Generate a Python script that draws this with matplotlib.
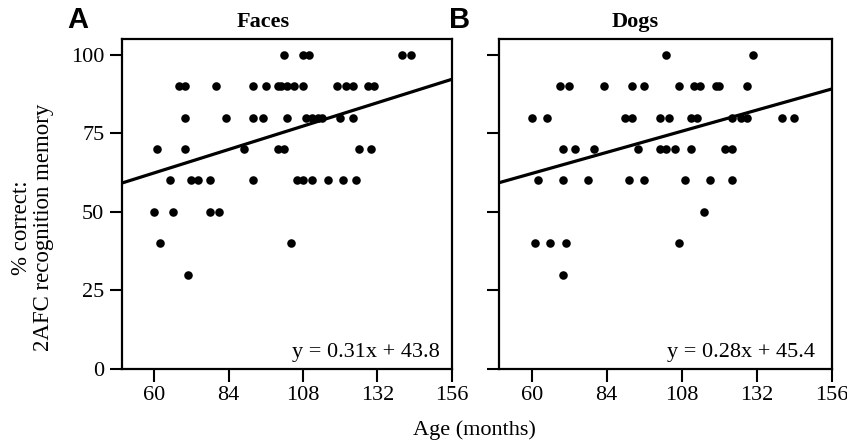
import matplotlib
matplotlib.use('Agg')
import matplotlib.pyplot as plt

# Faces: age in months and % correct
face_age = [102, 108, 110, 140, 143,
            68, 70, 80, 92, 96, 100, 101, 103, 105, 108, 119, 122, 124, 129, 131,
            70, 83, 92, 95, 103, 109, 111, 113, 114, 120, 124,
            61, 70, 89, 100, 102, 126, 130,
            65, 72, 74, 78, 92, 106, 108, 111, 116, 121, 125,
            60, 66, 78, 81,
            62, 104,
            71]
face_pct = [100] * 5 + [90] * 15 + [80] * 11 + [70] * 7 + [60] * 11 + [50] * 4 + [40] * 2 + [30]

# Dogs
dog_age = [103, 131,
           69, 72, 83, 92, 96, 107, 112, 114, 119, 120, 129,
           60, 65, 90, 92, 101, 104, 111, 113, 124, 127, 129, 140, 144,
           70, 74, 80, 94, 101, 103, 106, 111, 122, 124,
           62, 70, 78, 91, 96, 109, 117, 124,
           115,
           61, 66, 71, 107,
           70]
dog_pct = [100] * 2 + [90] * 11 + [80] * 13 + [70] * 10 + [60] * 8 + [50] + [40] * 4 + [30]

# regression lines as printed in the figure
fits = [(0.31, 43.8), (0.28, 45.4)]
titles = ['Faces', 'Dogs']
letters = ['A', 'B']
xticks = [60, 84, 108, 132, 156]
yticks = [0, 25, 50, 75, 100]

plt.rcParams['font.family'] = ['Liberation Serif', 'DejaVu Serif']

fig = plt.figure(figsize=(8.47, 4.46), dpi=100)
ax1 = fig.add_axes([0.1437, 0.1726, 0.3896, 0.740])
ax2 = fig.add_axes([0.589, 0.1726, 0.3928, 0.740])

data = [(face_age, face_pct), (dog_age, dog_pct)]
title_x = [0.43, 0.41]
eq_x = [0.965, 0.95]
letter_x = [0.080, 0.530]

for i, ax in enumerate([ax1, ax2]):
    ages, pct = data[i]
    ax.scatter(ages, pct, s=38, color='black', zorder=3, linewidths=0)
    m, b = fits[i]
    xs = [49.5, 156]
    ax.plot(xs, [m * x + b for x in xs], color='black', lw=2.3, zorder=2)
    ax.set_xlim(49.5, 156)
    ax.set_ylim(0, 105)
    ax.set_xticks(xticks)
    ax.set_yticks(yticks)
    ax.tick_params(direction='out', length=9, width=1.5, labelsize=16)
    for s in ax.spines.values():
        s.set_linewidth(1.6)
    if i == 1:
        ax.set_yticklabels([])
    ax.text(title_x[i], 1.035, titles[i], transform=ax.transAxes, ha='center',
            va='baseline', fontsize=16, fontweight='bold')
    ax.text(eq_x[i], 0.035, 'y = %.2fx + %.1f' % (m, b), transform=ax.transAxes,
            ha='right', va='baseline', fontsize=16)
    fig.text(letter_x[i], 0.937, letters[i], fontsize=21, fontweight='bold',
             family='Liberation Sans', ha='left', va='baseline')

fig.text(0.038, 0.49, '% correct:\n2AFC recognition memory', rotation=90,
         ha='center', va='center', fontsize=16.5, linespacing=1.05)
fig.text(0.56, 0.025, 'Age (months)', ha='center', va='baseline', fontsize=16)

fig.savefig('out.png', dpi=100)
